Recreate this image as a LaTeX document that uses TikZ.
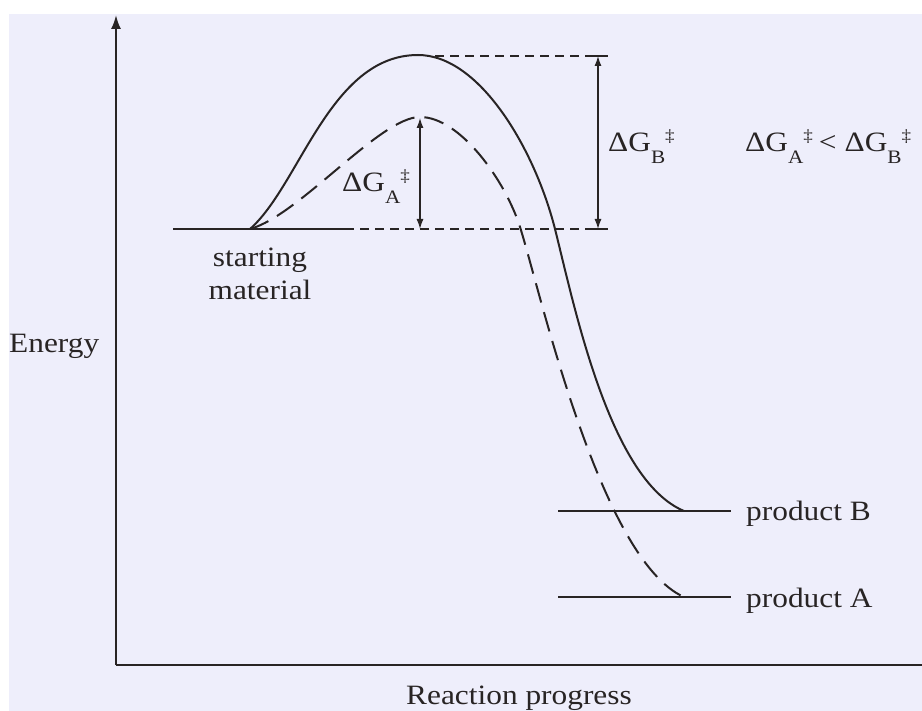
\documentclass[tikz,border=0pt]{standalone}
\usepackage{fontspec}
\setmainfont{Liberation Serif}[FakeStretch=1.12]
\usetikzlibrary{arrows.meta}
\definecolor{bglav}{RGB}{238,238,251}
\definecolor{ink}{RGB}{40,36,36}
\newcommand\dgl[1]{ΔG\raisebox{-12pt}{\fontsize{19}{19}\selectfont #1}\raisebox{10pt}{\fontsize{17}{17}\selectfont ‡}}
\tikzset{
  lbl/.style={inner sep=0pt, text=ink, font=\fontsize{28}{33}\selectfont},
  axisline/.style={draw=ink, line width=2pt},
  level/.style={draw=ink, line width=1.8pt},
  guide/.style={draw=ink, line width=1.6pt, dash pattern=on 9pt off 6pt},
  pathB/.style={draw=ink, line width=2pt},
  pathA/.style={draw=ink, line width=2pt, dash pattern=on 20pt off 10pt},
  gap/.style={draw=ink, line width=1.3pt, {Latex[length=10pt,width=7pt]}-{Latex[length=10pt,width=7pt]}}
}
\begin{document}
\begin{tikzpicture}[x=1pt,y=-1pt]
\useasboundingbox (0,0) rectangle (922,711);
\fill[bglav] (9,14) rectangle (922,711);
% axes
\coordinate (origin) at (116,665);
\coordinate (ytop) at (116,15);
\coordinate (xend) at (922,665);
\draw[axisline, -{Latex[length=14pt,width=10pt]}] (origin) -- (ytop);
\draw[axisline] (origin) -- (xend);
% levels
\coordinate (smL) at (173,229);
\coordinate (smR) at (345,229);
\coordinate (smE) at (608,229);
\coordinate (tsB) at (435,56);
\coordinate (tsBE) at (608,56);
\draw[level] (smL) -- (smR);
\draw[guide] (smR) -- (smE);
\draw[guide] (tsB) -- (tsBE);
\draw[level] (590,229) -- (smE);
\draw[level] (590,56) -- (tsBE);
\coordinate (pBL) at (558,511);
\coordinate (pBR) at (731,511);
\coordinate (pAL) at (558,597);
\coordinate (pAR) at (731,597);
\draw[level] (pBL) -- (pBR);
\draw[level] (pAL) -- (pAR);
% curves
\coordinate (start) at (250,229);
\coordinate (peakB) at (418,55);
\coordinate (midB) at (555,229);
\coordinate (endB) at (684,511);
\coordinate (peakA) at (420,117);
\coordinate (midA) at (520,227);
\coordinate (endA) at (684,597);
\draw[pathB] (start) .. controls (300,185) and (330,55) .. (peakB)
  .. controls (480,55) and (535,150) .. (midB)
  .. controls (575,309) and (610,480) .. (endB);
\draw[pathA] (start) .. controls (300,215) and (380,117) .. (peakA)
  .. controls (460,117) and (505,180) .. (midA)
  .. controls (540,290) and (600,560) .. (endA);
% barriers
\coordinate (aTop) at (420,118);
\coordinate (aBot) at (420,229);
\coordinate (bTop) at (598,56);
\coordinate (bBot) at (598,229);
\draw[gap] (aBot) -- (aTop);
\draw[gap] (bBot) -- (bTop);
% labels
\node[lbl, anchor=base west] (dgA) at (342,192) {\dgl{A}};
\node[lbl, anchor=base west] (dgB) at (608,152) {\dgl{B}};
\node[lbl, anchor=base west] (rel) at (745,152) {\dgl{A}\kern6pt<\kern8pt\dgl{B}};
\node[lbl, anchor=base] (sm1) at (260,267) {starting};
\node[lbl, anchor=base] (sm2) at (260,300) {material};
\node[lbl, anchor=base west] (en) at (9,353) {Energy};
\node[lbl, anchor=base] (rp) at (519,704) {Reaction progress};
\node[lbl, anchor=base west] (prB) at (746,521) {product B};
\node[lbl, anchor=base west] (prA) at (746,607) {product A};
\end{tikzpicture}
\end{document}
